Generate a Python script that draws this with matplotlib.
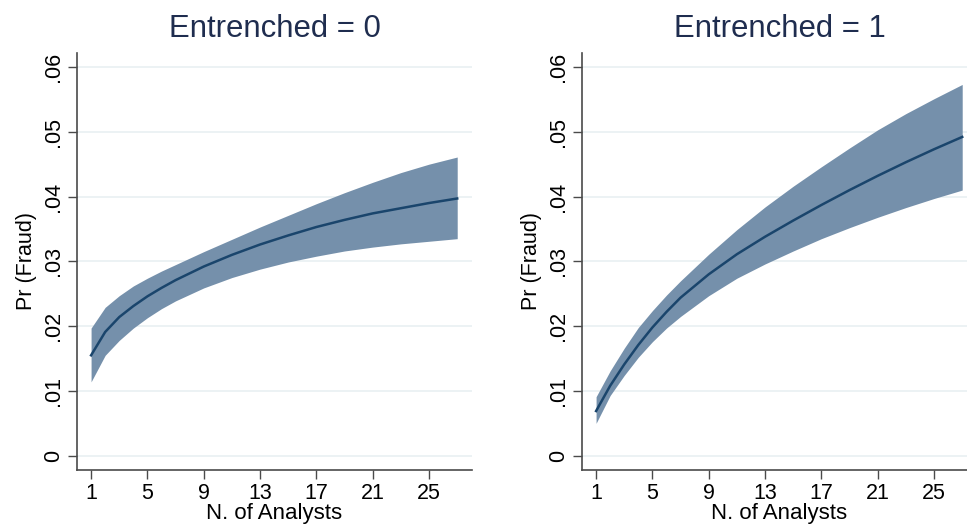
import matplotlib
matplotlib.use("Agg")
import matplotlib.pyplot as plt

plt.rcParams['font.family'] = ['Liberation Sans', 'DejaVu Sans']

# N. of Analysts
analysts = [1, 2, 3, 4, 5, 6, 7, 9, 11, 13, 15, 17, 19, 21, 23, 25, 27]

# Entrenched = 0
pr0 = [.0155, .0191, .0214, .0231, .0246, .0259, .0271, .0292, .0310, .0326,
       .0340, .0353, .0364, .0374, .0382, .0390, .0397]
hi0 = [.0197, .0229, .0247, .0262, .0274, .0285, .0295, .0315, .0334, .0353,
       .0371, .0389, .0406, .0422, .0437, .0450, .0461]
lo0 = [.0114, .0155, .0178, .0197, .0213, .0227, .0239, .0259, .0275, .0288,
       .0299, .0308, .0316, .0322, .0327, .0331, .0335]

# Entrenched = 1
pr1 = [.0069, .0108, .0141, .0171, .0198, .0222, .0244, .0280, .0311, .0338,
       .0363, .0387, .0410, .0432, .0453, .0473, .0492]
hi1 = [.0091, .0131, .0166, .0198, .0224, .0248, .0270, .0311, .0349, .0384,
       .0416, .0446, .0475, .0503, .0528, .0551, .0573]
lo1 = [.0050, .0093, .0124, .0152, .0176, .0197, .0215, .0247, .0274, .0296,
       .0316, .0335, .0352, .0368, .0383, .0397, .0410]

panels = [("Entrenched = 0", pr0, lo0, hi0), ("Entrenched = 1", pr1, lo1, hi1)]
yticks = [0, .01, .02, .03, .04, .05, .06]
ylabels = ['0', '.01', '.02', '.03', '.04', '.05', '.06']
xticks = [1, 5, 9, 13, 17, 21, 25]

FILL = '#7590ab'
LINE = '#1a456c'
TITLE = '#1f2d4f'
GRID = '#e9f0f2'

fig = plt.figure(figsize=(9.67, 5.27), dpi=100)
lefts = [77 / 967, 582 / 967]
w = 395 / 967

for left, (title, pr, lo, hi) in zip(lefts, panels):
    ax = fig.add_axes([left, 1 - 470 / 527, w, (470 - 52.7) / 527])
    ax.fill_between(analysts, lo, hi, color=FILL, linewidth=0, zorder=2)
    ax.plot(analysts, pr, color=LINE, linewidth=1.8, zorder=3)
    ax.set_xlim(0, 28.05)
    ax.set_ylim(-0.0022, 0.0622)
    ax.set_yticks(yticks)
    ax.set_yticklabels(ylabels, rotation=90, va='center')
    ax.set_xticks(xticks)
    ax.grid(axis='y', color=GRID, linewidth=1.2, zorder=0)
    ax.spines['top'].set_visible(False)
    ax.spines['right'].set_visible(False)
    for s in ('left', 'bottom'):
        ax.spines[s].set_color('#4a4a4a')
        ax.spines[s].set_linewidth(1.2)
    ax.tick_params(axis='both', direction='out', length=6.5, width=1,
                   color='#4a4a4a', labelsize=15.5, labelcolor='black')
    ax.tick_params(axis='y', pad=3)
    ax.tick_params(axis='x', pad=3)
    ax.set_title(title, fontsize=22.4, color=TITLE, pad=11)
    ax.set_xlabel('N. of Analysts', fontsize=16, labelpad=-1)
    ax.set_ylabel('Pr (Fraud)', fontsize=15.5, labelpad=4)

fig.savefig('out.png', dpi=100)
